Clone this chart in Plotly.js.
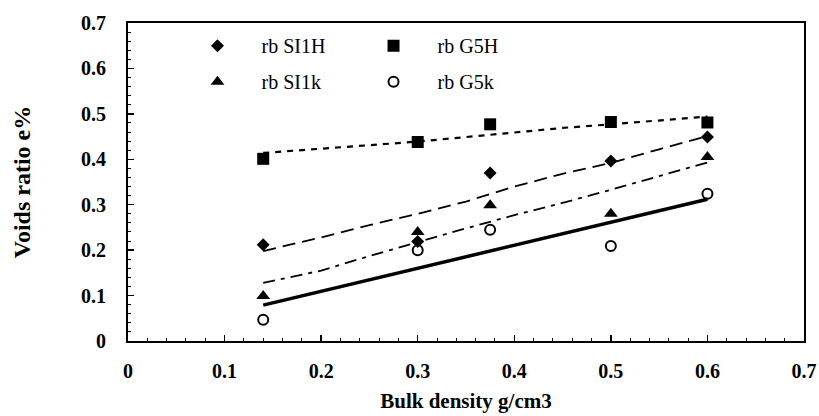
<!DOCTYPE html>
<html>
<head>
<meta charset="utf-8">
<script src="https://cdn.plot.ly/plotly-3.0.1.min.js"></script>
<style>html,body{margin:0;padding:0;background:#fff;}#chart{width:819px;height:416px;}</style>
</head>
<body>
<div id="chart"></div>
<script>
// Measured points
const density = [0.14, 0.3, 0.375, 0.5, 0.6];
const siH = [0.212, 0.219, 0.370, 0.396, 0.449];
const g5H = [0.401, 0.438, 0.477, 0.482, 0.481];
const siK = [0.099, 0.240, 0.299, 0.280, 0.405];
const g5K = [0.047, 0.200, 0.245, 0.209, 0.324];

// Trend lines
const trendX = [0.14, 0.2, 0.25, 0.3, 0.35, 0.4, 0.45, 0.5, 0.55, 0.6];
const trendSiH = [0.198, 0.228, 0.255, 0.280, 0.307, 0.340, 0.368, 0.392, 0.422, 0.451];
const trendG5H = [0.414, 0.424, 0.431, 0.439, 0.449, 0.460, 0.469, 0.477, 0.485, 0.494];
const trendSiK = [0.128, 0.155, 0.187, 0.218, 0.248, 0.277, 0.304, 0.333, 0.363, 0.393];
const trendG5KX = [0.14, 0.6];
const trendG5K = [0.079, 0.312];

const names = ['rb SI1H', 'rb G5H', 'rb SI1k', 'rb G5k'];

const traces = [
  {x: trendX, y: trendSiH, mode: 'lines', line: {color: '#000', width: 1.8, dash: '13px,7px'}, showlegend: false, hoverinfo: 'skip'},
  {x: trendX, y: trendG5H, mode: 'lines', line: {color: '#000', width: 2.2, dash: '6px,6px'}, showlegend: false, hoverinfo: 'skip'},
  {x: trendX, y: trendSiK, mode: 'lines', line: {color: '#000', width: 1.8, dash: '12px,6px,4px,6px'}, showlegend: false, hoverinfo: 'skip'},
  {x: trendG5KX, y: trendG5K, mode: 'lines', line: {color: '#000', width: 3.5}, showlegend: false, hoverinfo: 'skip'},
  {x: density, y: siH, mode: 'markers', name: names[0], legend: 'legend', legendgroup: 'a',
   marker: {symbol: 'diamond', size: 10, color: '#000'}},
  {x: density, y: siK, mode: 'markers', name: names[2], legend: 'legend', legendgroup: 'b',
   marker: {symbol: 'triangle-up', size: 12, color: '#000'}},
  {x: density, y: g5H, mode: 'markers', name: names[1], legend: 'legend2', legendgroup: 'c',
   marker: {symbol: 'square', size: 12, color: '#000'}},
  {x: density, y: g5K, mode: 'markers', name: names[3], legend: 'legend2', legendgroup: 'd',
   marker: {symbol: 'circle-open', size: 10, color: '#000', line: {width: 2, color: '#000'}}}
];

const tickFont = {family: 'Liberation Serif, Times New Roman, serif', size: 20, weight: 'bold', color: '#000'};
const xTitleFont = {family: 'Liberation Serif, Times New Roman, serif', size: 21, weight: 'bold', color: '#000'};
const yTitleFont = {family: 'Liberation Serif, Times New Roman, serif', size: 24, weight: 'bold', color: '#000'};
const legFont = {family: 'Liberation Serif, Times New Roman, serif', size: 20, color: '#000'};

const layout = {
  width: 819, height: 416,
  margin: {l: 128, r: 15, t: 23, b: 75},
  paper_bgcolor: '#fff', plot_bgcolor: '#fff',
  showlegend: true,
  xaxis: {
    range: [0, 0.7], dtick: 0.1, tick0: 0,
    showgrid: false, zeroline: false,
    showline: true, linewidth: 2, linecolor: '#000', mirror: true,
    ticks: 'inside', ticklen: 6, tickwidth: 1.5, tickcolor: '#000',
    minor: {ticks: 'inside', ticklen: 3, tickwidth: 1, dtick: 0.02, tickcolor: '#000', showgrid: false},
    tickfont: tickFont, ticklabelstandoff: 11,
    title: {text: 'Bulk density g/cm3', font: xTitleFont, standoff: 12}
  },
  yaxis: {
    range: [0, 0.7], dtick: 0.1, tick0: 0,
    showgrid: false, zeroline: false,
    showline: true, linewidth: 2, linecolor: '#000', mirror: true,
    ticks: 'inside', ticklen: 6, tickwidth: 1.5, tickcolor: '#000',
    minor: {ticks: 'inside', ticklen: 3, tickwidth: 1, dtick: 0.02, tickcolor: '#000', showgrid: false},
    tickfont: tickFont, ticklabelstandoff: 16,
    title: {text: 'Voids ratio e%', font: yTitleFont, standoff: 44}
  },
  legend: {x: 0.0673, y: 0.99, xanchor: 'left', yanchor: 'top', bgcolor: 'rgba(0,0,0,0)', font: legFont, tracegroupgap: 7, traceorder: 'grouped', itemwidth: 78},
  legend2: {x: 0.3277, y: 0.99, xanchor: 'left', yanchor: 'top', bgcolor: 'rgba(0,0,0,0)', font: legFont, tracegroupgap: 7, traceorder: 'grouped', itemwidth: 78}
};

Plotly.newPlot('chart', traces, layout, {displayModeBar: false, staticPlot: true});
</script>
</body>
</html>
